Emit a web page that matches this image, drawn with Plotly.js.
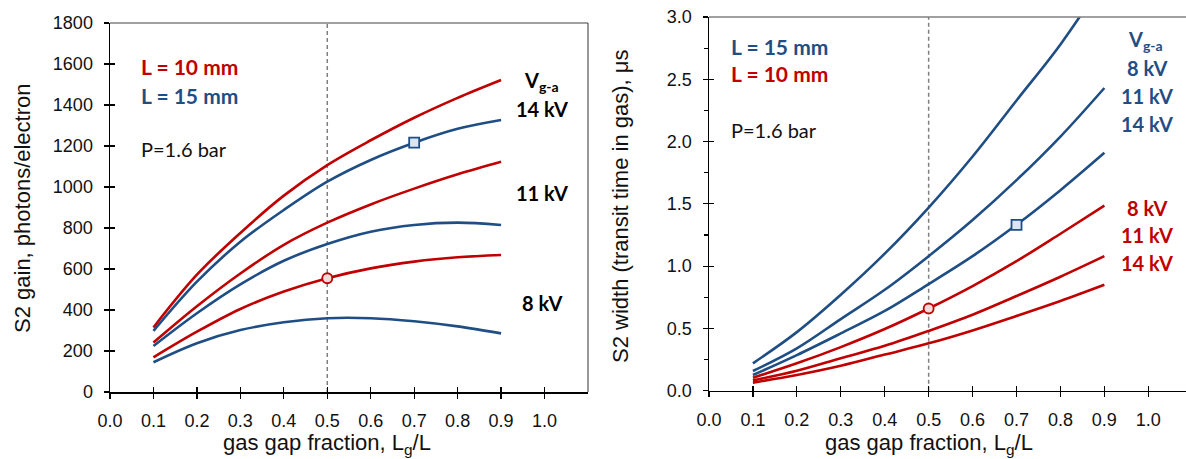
<!DOCTYPE html>
<html><head><meta charset="utf-8">
<script src="https://cdn.plot.ly/plotly-3.0.1.min.js"></script>
<style>html,body{margin:0;padding:0;background:#fff}#chart{width:1186px;height:459px}</style>
</head><body><div id="chart"></div>
<script>
// ---- data ----
const gapFraction = [0.1, 0.2, 0.3, 0.4, 0.5, 0.6, 0.7, 0.8, 0.9];
// S2 gain, photons/electron
const gainL10_14kV = [315, 572, 776, 958, 1107, 1228, 1338, 1435, 1522];
const gainL15_14kV = [298, 538, 733, 888, 1026, 1132, 1216, 1284, 1327];
const gainL10_11kV = [241, 418, 578, 718, 826, 915, 992, 1062, 1123];
const gainL15_11kV = [224, 384, 525, 640, 722, 782, 815, 826, 815];
const gainL10_8kV  = [169, 294, 405, 490, 555, 603, 636, 657, 668];
const gainL15_8kV  = [145, 238, 302, 340, 360, 360, 345, 320, 286];
// S2 width (transit time in gas), us
const widthL15_8kV  = [0.22, 0.47, 0.77, 1.10, 1.47, 1.88, 2.33, 2.78, 3.30];
const widthL15_11kV = [0.158, 0.34, 0.575, 0.81, 1.08, 1.37, 1.69, 2.04, 2.43];
const widthL15_14kV = [0.126, 0.286, 0.46, 0.64, 0.856, 1.08, 1.332, 1.61, 1.91];
const widthL10_8kV  = [0.104, 0.22, 0.35, 0.495, 0.66, 0.84, 1.04, 1.26, 1.485];
const widthL10_11kV = [0.083, 0.16, 0.26, 0.36, 0.48, 0.61, 0.76, 0.915, 1.08];
const widthL10_14kV = [0.065, 0.126, 0.2, 0.29, 0.38, 0.484, 0.60, 0.72, 0.85];
// highlighted points
const gainMarkCircleX = 0.5, gainMarkSquareX = 0.7;
const widthMarkCircleX = 0.5, widthMarkSquareX = 0.7;
// ticks
const xTickVals = [0, 0.1, 0.2, 0.3, 0.4, 0.5, 0.6, 0.7, 0.8, 0.9, 1.0];
const xTickText = ['0.0','0.1','0.2','0.3','0.4','0.5','0.6','0.7','0.8','0.9','1.0'];
const gainTickVals = [0, 200, 400, 600, 800, 1000, 1200, 1400, 1600, 1800];
const widthTickVals = [0, 0.5, 1.0, 1.5, 2.0, 2.5, 3.0];
const widthTickText = ['0.0','0.5','1.0','1.5','2.0','2.5','3.0'];
const widthMinorStep = 0.25;

// ---- style ----
const W = 1186, H = 459;
const RED = '#c00000', BLUE = '#1f4e85';
const TXT = '#111111';
const SANS = 'Liberation Sans, Arial, sans-serif';
const CAL = 'Lato, Carlito, Calibri, sans-serif';
const px = v => v / W, py = v => 1 - v / H;

function curve(y, color, xa, ya) {
  return {x: gapFraction, y: y, xaxis: xa, yaxis: ya, mode: 'lines', type: 'scatter',
    line: {color: color, width: 2.6, shape: 'spline', smoothing: 1}, hoverinfo: 'skip'};
}
function mark(xv, arr, sym, color, fill, xa, ya) {
  const i = gapFraction.indexOf(xv);
  return {x: [gapFraction[i]], y: [arr[i]], xaxis: xa, yaxis: ya, mode: 'markers', type: 'scatter',
    marker: {symbol: sym, size: 10, color: fill, line: {color: color, width: 1.8}}, hoverinfo: 'skip'};
}
const empty = (xa, ya) => ({x: [], y: [], xaxis: xa, yaxis: ya, type: 'scatter', mode: 'lines', hoverinfo: 'skip'});

const data = [
  curve(gainL15_8kV, BLUE, 'x', 'y'),
  curve(gainL10_8kV, RED, 'x', 'y'),
  curve(gainL15_11kV, BLUE, 'x', 'y'),
  curve(gainL10_11kV, RED, 'x', 'y'),
  curve(gainL15_14kV, BLUE, 'x', 'y'),
  curve(gainL10_14kV, RED, 'x', 'y'),
  mark(gainMarkCircleX, gainL10_8kV, 'circle', RED, '#f2dcdb', 'x', 'y'),
  mark(gainMarkSquareX, gainL15_14kV, 'square', BLUE, '#dce6f2', 'x', 'y'),
  curve(widthL10_14kV, RED, 'x2', 'y2'),
  curve(widthL10_11kV, RED, 'x2', 'y2'),
  curve(widthL10_8kV, RED, 'x2', 'y2'),
  curve(widthL15_14kV, BLUE, 'x2', 'y2'),
  curve(widthL15_11kV, BLUE, 'x2', 'y2'),
  curve(widthL15_8kV, BLUE, 'x2', 'y2'),
  mark(widthMarkCircleX, widthL10_8kV, 'circle', RED, '#f2dcdb', 'x2', 'y2'),
  mark(widthMarkSquareX, widthL15_14kV, 'square', BLUE, '#dce6f2', 'x2', 'y2'),
  empty('x3', 'y'), empty('x', 'y3'), empty('x4', 'y2'), empty('x2', 'y4')
];

const tickFont = {family: SANS, size: 18, color: TXT};
const baseAx = {showgrid: false, zeroline: false, showline: true, linecolor: '#000', linewidth: 1.5,
  ticks: 'outside', ticklen: 5, tickwidth: 1.2, tickcolor: '#000', tickfont: tickFont, fixedrange: true};
const innerAx = {showgrid: false, zeroline: false, showline: false, showticklabels: false,
  ticks: 'inside', ticklen: 5, tickwidth: 1.2, tickcolor: '#000', fixedrange: true};

const xL = [0, 1.1], xR = [0, (W - 709) / 439.3];
const layout = {
  width: W, height: H, margin: {l: 0, r: 0, t: 0, b: 0},
  paper_bgcolor: '#fff', plot_bgcolor: '#fff', showlegend: false,
  xaxis: Object.assign({}, baseAx, {domain: [px(110), px(588)], range: xL, anchor: 'y',
    tickmode: 'array', tickvals: xTickVals, ticktext: xTickText, ticklabelstandoff: 7}),
  yaxis: Object.assign({}, baseAx, {domain: [py(392), py(23)], range: [0, 1800], anchor: 'x',
    tickmode: 'array', tickvals: gainTickVals, ticklabelstandoff: 7}),
  xaxis2: Object.assign({}, baseAx, {domain: [px(709), 1], range: xR, anchor: 'y2',
    tickmode: 'array', tickvals: xTickVals, ticktext: xTickText, ticklabelstandoff: 7}),
  yaxis2: Object.assign({}, baseAx, {domain: [py(390.7), py(17)], range: [0, 3], anchor: 'x2',
    tickmode: 'array', tickvals: widthTickVals, ticktext: widthTickText, ticklabelstandoff: 7,
    minor: {tick0: 0, dtick: widthMinorStep, ticks: 'outside', ticklen: 4, tickwidth: 1.2, tickcolor: '#000', showgrid: false}}),
  xaxis3: Object.assign({}, innerAx, {overlaying: 'x', anchor: 'y', range: xL, tickmode: 'array', tickvals: xTickVals}),
  yaxis3: Object.assign({}, innerAx, {overlaying: 'y', anchor: 'x', range: [0, 1800], tickmode: 'array', tickvals: gainTickVals}),
  xaxis4: Object.assign({}, innerAx, {overlaying: 'x2', anchor: 'y2', range: xR, tickmode: 'array', tickvals: xTickVals}),
  yaxis4: Object.assign({}, innerAx, {overlaying: 'y2', anchor: 'x2', range: [0, 3], tickmode: 'array', tickvals: widthTickVals}),
  shapes: [
    {type: 'line', layer: 'below', xref: 'x', yref: 'y domain', x0: 0.5, x1: 0.5, y0: 0, y1: 1,
      line: {color: '#7f7f7f', width: 1.5, dash: '4px,3px'}},
    {type: 'line', layer: 'below', xref: 'x2', yref: 'y2 domain', x0: 0.5, x1: 0.5, y0: 0, y1: 1,
      line: {color: '#7f7f7f', width: 1.5, dash: '4px,3px'}},
    {type: 'line', xref: 'x domain', yref: 'y domain', x0: 0, x1: 1, y0: 1, y1: 1, line: {color: '#808080', width: 1.6}},
    {type: 'line', xref: 'x domain', yref: 'y domain', x0: 1, x1: 1, y0: 0, y1: 1, line: {color: '#333', width: 1}},
    {type: 'line', xref: 'x2 domain', yref: 'y2 domain', x0: 0, x1: 1, y0: 1, y1: 1, line: {color: '#808080', width: 1.6}}
  ],
  annotations: []
};

function ann(text, x, y, opts) {
  layout.annotations.push(Object.assign({text: text, x: px(x), y: py(y), xref: 'paper', yref: 'paper',
    showarrow: false, xanchor: 'center', yanchor: 'middle'}, opts));
}
const bold = (c, s) => ({family: CAL, size: s || 20, color: c, weight: 'bold'});
const titleFont = {family: SANS, size: 22, color: TXT};
// axis titles
ann('S2 gain, photons/electron', 22, 208, {textangle: -90, font: titleFont});
ann('S2 width (transit time in gas), μs', 621, 207, {textangle: -90, font: titleFont});
layout.annotations.push({text: 'gas gap fraction, L<sub>g</sub>/L', xref: 'x', x: 0.5, yref: 'paper', y: py(444),
  showarrow: false, xanchor: 'center', yanchor: 'middle', font: titleFont});
layout.annotations.push({text: 'gas gap fraction, L<sub>g</sub>/L', xref: 'x2', x: 0.5, yref: 'paper', y: py(444),
  showarrow: false, xanchor: 'center', yanchor: 'middle', font: titleFont});
// left panel labels
ann('<b>L = 10 mm</b>', 139, 67, {xanchor: 'left', font: bold(RED, 21)});
ann('<b>L = 15 mm</b>', 139, 95, {xanchor: 'left', font: bold(BLUE, 21)});
ann('P=1.6 bar', 139, 149, {xanchor: 'left', font: {family: CAL, size: 20, color: TXT}});
ann('<b>V<sub>g-a</sub></b>', 541, 81, {font: bold('#000', 20)});
ann('<b>14 kV</b>', 542, 109, {font: bold('#000', 20)});
ann('<b>11 kV</b>', 542, 193, {font: bold('#000', 20)});
ann('<b>8 kV</b>', 542, 303, {font: bold('#000', 20)});
// right panel labels
ann('<b>L = 15 mm</b>', 729, 46, {xanchor: 'left', font: bold(BLUE, 21)});
ann('<b>L = 10 mm</b>', 729, 73, {xanchor: 'left', font: bold(RED, 21)});
ann('P=1.6 bar', 729, 130, {xanchor: 'left', font: {family: CAL, size: 20, color: TXT}});
ann('<b>V<sub>g-a</sub></b>', 1145, 41, {font: bold(BLUE, 20)});
ann('<b>8 kV</b>', 1147, 68, {font: bold(BLUE, 20)});
ann('<b>11 kV</b>', 1147, 96, {font: bold(BLUE, 20)});
ann('<b>14 kV</b>', 1147, 124, {font: bold(BLUE, 20)});
ann('<b>8 kV</b>', 1147, 208, {font: bold(RED, 20)});
ann('<b>11 kV</b>', 1147, 235, {font: bold(RED, 20)});
ann('<b>14 kV</b>', 1147, 263, {font: bold(RED, 20)});

Plotly.newPlot('chart', data, layout, {staticPlot: true, displayModeBar: false});
</script>
</body></html>
